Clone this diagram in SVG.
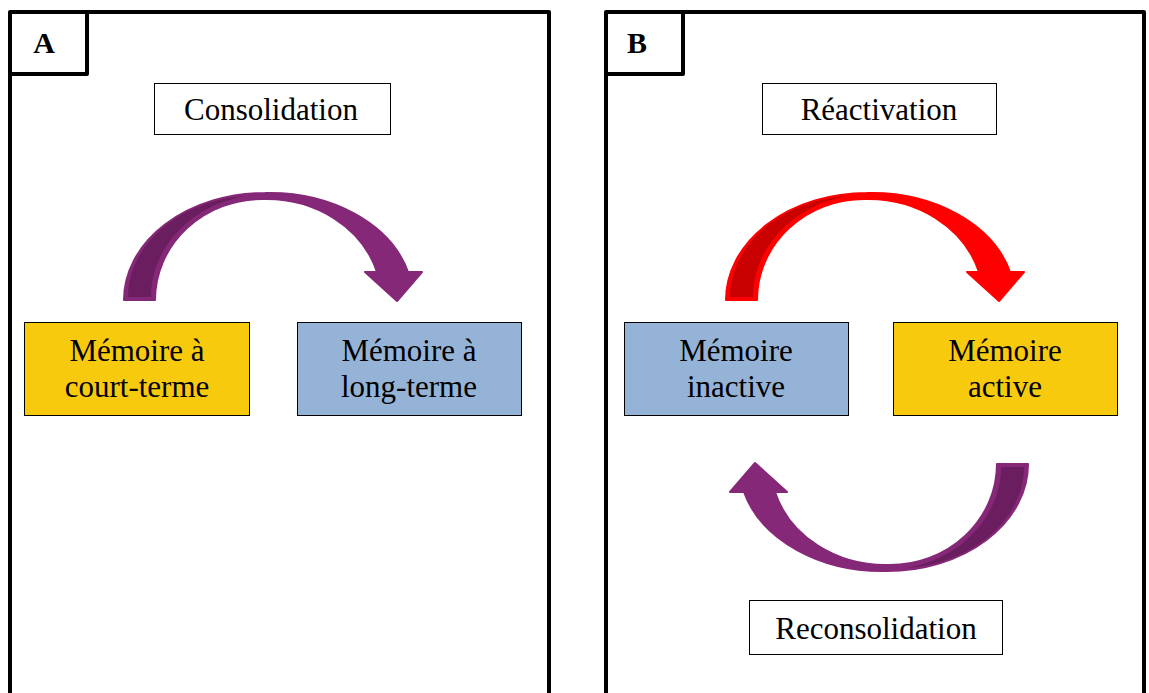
<svg xmlns="http://www.w3.org/2000/svg" xmlns:xlink="http://www.w3.org/1999/xlink" width="1149" height="693" viewBox="0 0 1149 693">
  <style>
    .panel { fill: none; stroke: #000; stroke-width: 4; stroke-linejoin: round; }
    .lbl { font-family: "Liberation Serif", "Times New Roman", serif; font-size: 30px; font-weight: bold; text-anchor: middle; fill: #000; }
    .txt { font-family: "Liberation Serif", "Times New Roman", serif; font-size: 31px; text-anchor: middle; fill: #000; }
    .tbox { fill: #fff; stroke: #000; stroke-width: 1; }
    .yel { fill: #F8CA0E; stroke: #000; stroke-width: 1; }
    .blu { fill: #95B3D7; stroke: #000; stroke-width: 1; }
    .purF { fill: #862878; stroke: #862878; stroke-width: 2; stroke-linejoin: round; }
    .purB { fill: #6A1E5F; }
    .redF { fill: #FF0000; stroke: #FF0000; stroke-width: 2; stroke-linejoin: round; }
    .redB { fill: #C80000; }
  </style>
  <defs>
    <path id="arrowShape" d="M 124 300 A 141 107 0 0 1 265 193 A 143 107 0 0 1 408 272 L 422 272 L 397 301 L 365 272 L 377 272 A 115 101 0 0 0 262 199 A 107 101 0 0 0 155 300 Z"/>
    <path id="arrowBack" d="M 128 297 C 128 246, 178 200, 246 196 C 195 204, 151 245, 151 297 Z"/>
  </defs>

  <g id="panelA">
    <path class="panel" d="M 10 693 V 12 H 549 V 693"/>
    <path class="panel" d="M 10 74 H 87 V 12"/>
    <text class="lbl" x="44" y="53">A</text>
  </g>
  <g id="panelB">
    <path class="panel" d="M 606 693 V 12 H 1144 V 693"/>
    <path class="panel" d="M 606 74 H 683 V 12"/>
    <text class="lbl" x="637" y="53">B</text>
  </g>

  <g id="consolidation">
    <rect class="tbox" x="154.5" y="83.5" width="236" height="51"/>
    <text class="txt" x="271" y="120">Consolidation</text>
  </g>
  <g id="reactivation">
    <rect class="tbox" x="762.5" y="83.5" width="234" height="51"/>
    <text class="txt" x="879" y="120">Réactivation</text>
  </g>
  <g id="reconsolidation">
    <rect class="tbox" x="749.5" y="600.5" width="253" height="54"/>
    <text class="txt" x="876" y="639">Reconsolidation</text>
  </g>

  <g id="memCourtTerme">
    <rect class="yel" x="24.5" y="322.5" width="225" height="93"/>
    <text class="txt" x="137" y="361">Mémoire à</text>
    <text class="txt" x="137" y="397">court-terme</text>
  </g>
  <g id="memLongTerme">
    <rect class="blu" x="297.5" y="322.5" width="224" height="93"/>
    <text class="txt" x="409" y="361">Mémoire à</text>
    <text class="txt" x="409" y="397">long-terme</text>
  </g>
  <g id="memInactive">
    <rect class="blu" x="624.5" y="322.5" width="224" height="93"/>
    <text class="txt" x="736" y="361">Mémoire</text>
    <text class="txt" x="736" y="397">inactive</text>
  </g>
  <g id="memActive">
    <rect class="yel" x="893.5" y="322.5" width="224" height="93"/>
    <text class="txt" x="1005" y="361">Mémoire</text>
    <text class="txt" x="1005" y="397">active</text>
  </g>

  <g id="connectors">
    <g id="arrowConsolidation">
      <use xlink:href="#arrowShape" href="#arrowShape" class="purF"/>
      <use xlink:href="#arrowBack" href="#arrowBack" class="purB"/>
    </g>
    <g id="arrowReactivation" transform="translate(602 0)">
      <use xlink:href="#arrowShape" href="#arrowShape" class="redF"/>
      <use xlink:href="#arrowBack" href="#arrowBack" class="redB"/>
    </g>
    <g id="arrowReconsolidation" transform="rotate(180 576 382)">
      <use xlink:href="#arrowShape" href="#arrowShape" class="purF"/>
      <use xlink:href="#arrowBack" href="#arrowBack" class="purB"/>
    </g>
  </g>
</svg>
